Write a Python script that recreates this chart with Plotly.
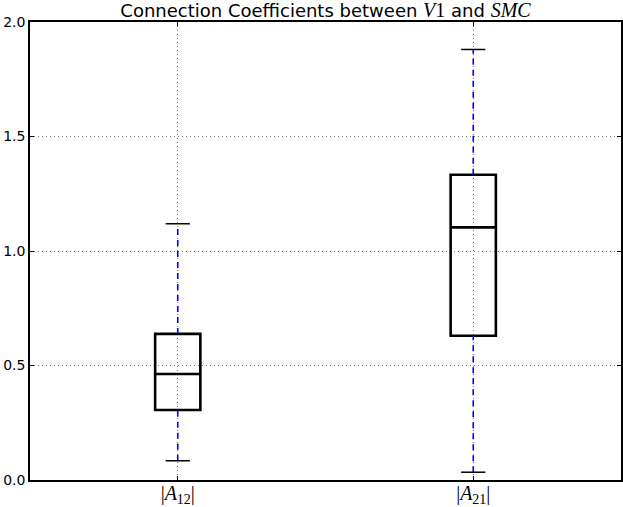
import plotly.graph_objects as go

categories = ["|<i>A</i><sub>12</sub>|", "|<i>A</i><sub>21</sub>|"]
positions = [1, 2]
q1 = [0.306, 0.630]
median = [0.463, 1.103]
q3 = [0.638, 1.333]
lower_whisker = [0.084, 0.034]
upper_whisker = [1.119, 1.880]
y_ticks = [0.0, 0.5, 1.0, 1.5, 2.0]

box_width = 0.153
cap_half = 0.041

fig = go.Figure()

for i, p in enumerate(positions):
    # whiskers
    fig.add_trace(go.Scatter(
        x=[p, p, None, p, p],
        y=[lower_whisker[i], q1[i], None, q3[i], upper_whisker[i]],
        mode="lines", line=dict(color="#0000ff", width=1.6, dash="6px,5px"),
        hoverinfo="skip", showlegend=False))
    # caps
    fig.add_trace(go.Scatter(
        x=[p - cap_half, p + cap_half, None, p - cap_half, p + cap_half],
        y=[lower_whisker[i], lower_whisker[i], None, upper_whisker[i], upper_whisker[i]],
        mode="lines", line=dict(color="black", width=1.5),
        hoverinfo="skip", showlegend=False))
    # box
    fig.add_trace(go.Box(
        x=[p], q1=[q1[i]], median=[median[i]], q3=[q3[i]],
        lowerfence=[q1[i]], upperfence=[q3[i]],
        width=box_width, whiskerwidth=0,
        line=dict(color="black", width=2.6),
        fillcolor="rgba(0,0,0,0)", boxpoints=False,
        showlegend=False))

serif = "font-family:Liberation Serif;font-size:20px"
fig.update_layout(
    width=623, height=507,
    margin=dict(l=30, r=2, t=22, b=27, autoexpand=False),
    paper_bgcolor="white", plot_bgcolor="white",
    font=dict(family="DejaVu Sans", color="black", size=14),
    title=dict(
        text=f"Connection Coefficients between <span style='{serif}'><i>V</i>1</span> and <span style='{serif}'><i>SMC</i></span>",
        font=dict(family="DejaVu Sans", size=18, color="black"),
        x=0.5, xref="paper", xanchor="center",
        y=1 - 11 / 507, yref="container", yanchor="middle"),
)

fig.update_xaxes(
    range=[0.5, 2.5], tickmode="array", tickvals=positions, ticktext=categories,
    tickfont=dict(family="Liberation Serif", size=20, color="black"),
    ticks="inside", ticklen=4, tickcolor="black", tickwidth=1,
    ticklabelstandoff=-6,
    showline=True, linecolor="black", linewidth=1.5, mirror="ticks",
    showgrid=True, gridcolor="#777777", gridwidth=1, griddash="1px,3px",
    zeroline=False, automargin=False)
fig.update_yaxes(
    range=[0, 2], tickmode="array", tickvals=y_ticks,
    ticktext=[f"{v:.1f}" for v in y_ticks],
    tickfont=dict(family="DejaVu Sans", size=14, color="black"),
    ticks="inside", ticklen=4, tickcolor="black", tickwidth=1,
    showline=True, linecolor="black", linewidth=1.5, mirror="ticks",
    showgrid=True, gridcolor="#777777", gridwidth=1, griddash="1px,3px",
    zeroline=False, automargin=False)

fig.write_html("out.html", config={"displayModeBar": False},
               post_script="document.body.style.margin='0';document.body.style.overflow='hidden';")
